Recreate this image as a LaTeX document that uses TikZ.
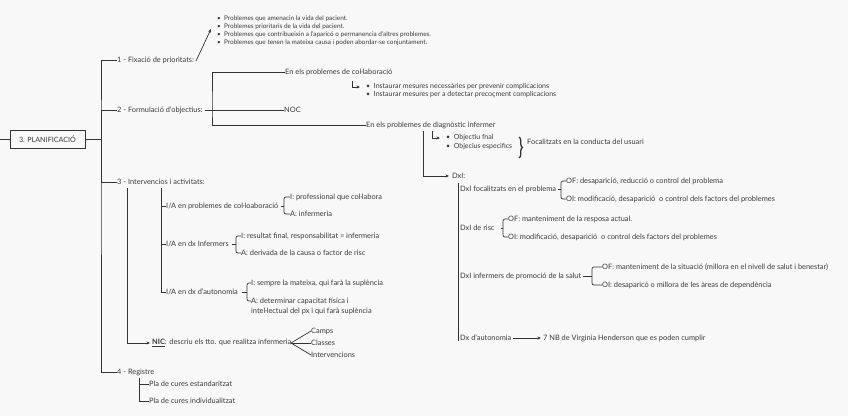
\documentclass[tikz,border=0pt]{standalone}
\usepackage{fontspec}
\setmainfont{Lato}
\usetikzlibrary{arrows.meta,calc,decorations.pathreplacing}
\definecolor{bg}{HTML}{F8F8F8}
\definecolor{txt}{HTML}{3A3A3A}
\definecolor{ln}{HTML}{333333}
\tikzset{
  t/.style={anchor=west,inner sep=0pt,text=txt,font=\fontsize{7.4}{8.5}\selectfont},
  ts/.style={anchor=west,inner sep=0pt,text=txt,font=\fontsize{6.4}{7}\selectfont},
  tb/.style={anchor=west,inner sep=0pt,text=txt,font=\fontsize{7.0}{8}\selectfont},
  conn/.style={draw=ln,line width=0.7pt},
  arr/.style={conn,-{Stealth[length=3.6pt,width=3pt]}},
  brk/.style={conn,rounded corners=2pt},
  rootbox/.style={draw=ln,line width=0.8pt,minimum width=75pt,minimum height=18pt,inner sep=0pt,text=txt,font=\fontsize{7.2}{8}\selectfont}
}
\begin{document}
\begin{tikzpicture}[x=1pt,y=-1pt]
\fill[bg] (0,0) rectangle (848,416);
\useasboundingbox (0,0) rectangle (848,416);

% root
\node[rootbox] (root) at (47.5,139) {3. PLANIFICACIÓ};
\coordinate (lft) at (0,139);
\coordinate (trunk) at (101,139);
\draw[conn] (lft) -- (root.west);
\draw[conn] (root.east) -- (trunk);

% main branches
\node[t] (b1) at (117,60) {1 - Fixació de prioritats:};
\node[t] (b2) at (117,110) {2 - Formulació d'objectius:};
\node[t] (b3) at (117,182) {3 - Intervencios i activitats:};
\node[t] (b4) at (117,372) {4 - Registre};
\draw[conn] (b1.west) -| (trunk) |- (b4.west);
\draw[conn] (trunk) |- (b2.west);
\draw[conn] (trunk) |- (b3.west);

% 1 priorities
\node[ts] (p1) at (217,19) {• \ Problemes que amenacin la vida del pacient.};
\node[ts] (p2) at (217,27) {• \ Problemes prioritaris de la vida del pacient.};
\node[ts] (p3) at (217,35) {• \ Problemes que contribueixin a l'aparicó o permanencia d'altres problemes.};
\node[ts] (p4) at (217,43) {• \ Problemes que tenen la mateixa causa i poden abordar-se conjuntament.};
\coordinate (d1) at (196,61);
\coordinate (d2) at (211,29);
\draw[arr] (d1) -- (d2);

% 2 objectives
\node[t] (colab) at (285,72) {En els problemes de col·laboració};
\node[t] (noc) at (284,110) {NOC};
\node[t] (diag) at (366,125) {En els problemes de diagnòstic infermer};
\coordinate (b2r) at (205,110);
\coordinate (c2) at (212,110);
\draw[conn] (b2r) -- (noc.west);
\draw[conn] (colab.west) -| (c2) |- (diag.west);

\node[tb] (cb1) at (366,87) {• \ Instaurar mesures necessàries per prevenir complicacions};
\node[tb] (cb2) at (366,95) {• \ Instaurar mesures per a detectar precoçment complicacions};
\coordinate (e1) at (352,81);
\draw[arr,shorten >=6pt] (e1) |- (cb1.west);

\node[tb] (o1) at (446,138) {• \ Objectiu fnal};
\node[tb] (o2) at (446,147) {• \ Objecius especifics};
\coordinate (e2) at (432,131);
\draw[arr,shorten >=6pt] (e2) |- (o1.west);
\coordinate (br1) at (519,137);
\coordinate (br2) at (519,158);
\draw[conn,line width=1.3pt,decorate,decoration={brace,amplitude=3.5pt}] (br1) -- (br2);
\node[t] (foc) at (527,142) {Focalitzats en la conducta del usuari};

\node[t] (dxi) at (452,176) {DxI:};
\coordinate (v1) at (423,131);
\draw[arr,shorten >=3pt] (v1) |- (dxi.west);

% DxI children
\coordinate (dv1) at (458,183);
\coordinate (dv2) at (458,341);
\draw[conn] (dv1) -- (dv2);
\node[t] (f1) at (460,189) {DxI focalitzats en el problema};
\node[t] (f2) at (460,228) {DxI de risc};
\node[t] (f3) at (460,276) {DxI infermers de promoció de la salut};
\node[t] (f4) at (460,338) {Dx d'autonomia};

\node[t] (of1) at (566,181) {OF: desaparició, reducció o control del problema};
\node[t] (oi1) at (566,199) {OI: modificació, desaparició \ o control dels factors del problemes};
\coordinate (k1) at (561,189);
\draw[conn] ($(f1.east)+(2,0)$) -- (k1);
\draw[brk] (of1.west) -| (k1) |- (oi1.west);

\node[t] (of2) at (508,219) {OF: manteniment de la resposa actual.};
\node[t] (oi2) at (508,237) {OI: modificació, desaparició \ o control dels factors del problemes};
\coordinate (k2) at (503,228);
\draw[conn] ($(f2.east)+(6,0)$) -- (k2);
\draw[brk] (of2.west) -| (k2) |- (oi2.west);

\node[t] (of3) at (602,267) {OF: manteniment de la situació (millora en el nivell de salut i benestar)};
\node[t] (oi3) at (602,285) {OI: desaparicó o millora de les àreas de dependència};
\coordinate (k3) at (592,276);
\draw[conn] ($(f3.east)+(2,0)$) -- (k3);
\draw[brk] (of3.west) -| (k3) |- (oi3.west);

\node[t] (nb) at (543,338) {7 NB de Virginia Henderson que es poden cumplir};
\coordinate (nbs) at (513,338);
\draw[arr,shorten >=2pt] (nbs) -- (nb.west);

% 3 interventions
\coordinate (v3a) at (127,188);
\node[t] (nic) at (152,343) {\underline{\textbf{NIC}}: descriu els tto. que realitza infermeria};
\draw[arr,shorten >=2pt] (v3a) |- (nic.west);

\coordinate (v3b) at (161,188);
\node[t] (ia1) at (166,206) {I/A en problemes de col·loaboració};
\node[t] (ia2) at (166,244) {I/A en dx Infermers};
\node[t] (ia3) at (166,292) {I/A en dx d'autonomia};
\draw[conn] (v3b) |- (ia3.west);
\draw[conn] (ia1.west) -- (ia1.west -| v3b);
\draw[conn] (ia2.west) -- (ia2.west -| v3b);

\node[t] (i1) at (290,197) {I: professional que col·labora};
\node[t] (a1) at (290,214) {A: infermeria};
\coordinate (k4) at (284,206);
\draw[conn] ($(ia1.east)+(2,0)$) -- (k4);
\draw[brk] (i1.west) -| (k4) |- (a1.west);

\node[t] (i2) at (241,236) {I: resultat final, responsabilitat = infermeria};
\node[t] (a2) at (241,253) {A: derivada de la causa o factor de risc};
\coordinate (k5) at (236,244);
\draw[conn] ($(ia2.east)+(3,0)$) -- (k5);
\draw[brk] (i2.west) -| (k5) |- (a2.west);

\node[t] (i3) at (251,283) {I: sempre la mateixa, qui farà la suplència};
\node[t] (a3) at (251,301) {A: determinar capacitat física i};
\node[t] (a3b) at (251,311) {intel·lectual del px i qui farà suplència};
\coordinate (k6) at (247,292);
\draw[conn] ($(ia3.east)+(4,0)$) -- (k6);
\draw[brk] (i3.west) -| (k6) |- (a3.west);

% NIC fan
\node[t] (camps) at (311,331) {Camps};
\node[t] (classes) at (311,343) {Classes};
\node[t] (interv) at (311,355) {Intervencions};
\coordinate (fan) at (291,343);
\draw[conn] (fan) -- (camps.west);
\draw[conn] (fan) -- (classes.west);
\draw[conn] (fan) -- (interv.west);

% 4 register
\coordinate (v4) at (139,378);
\node[t] (r1) at (149,384) {Pla de cures estandaritzat};
\node[t] (r2) at (149,401) {Pla de cures individualitzat};
\draw[conn] (v4) |- (r2.west);
\draw[conn] (r1.west) -- (r1.west -| v4);
\end{tikzpicture}
\end{document}
